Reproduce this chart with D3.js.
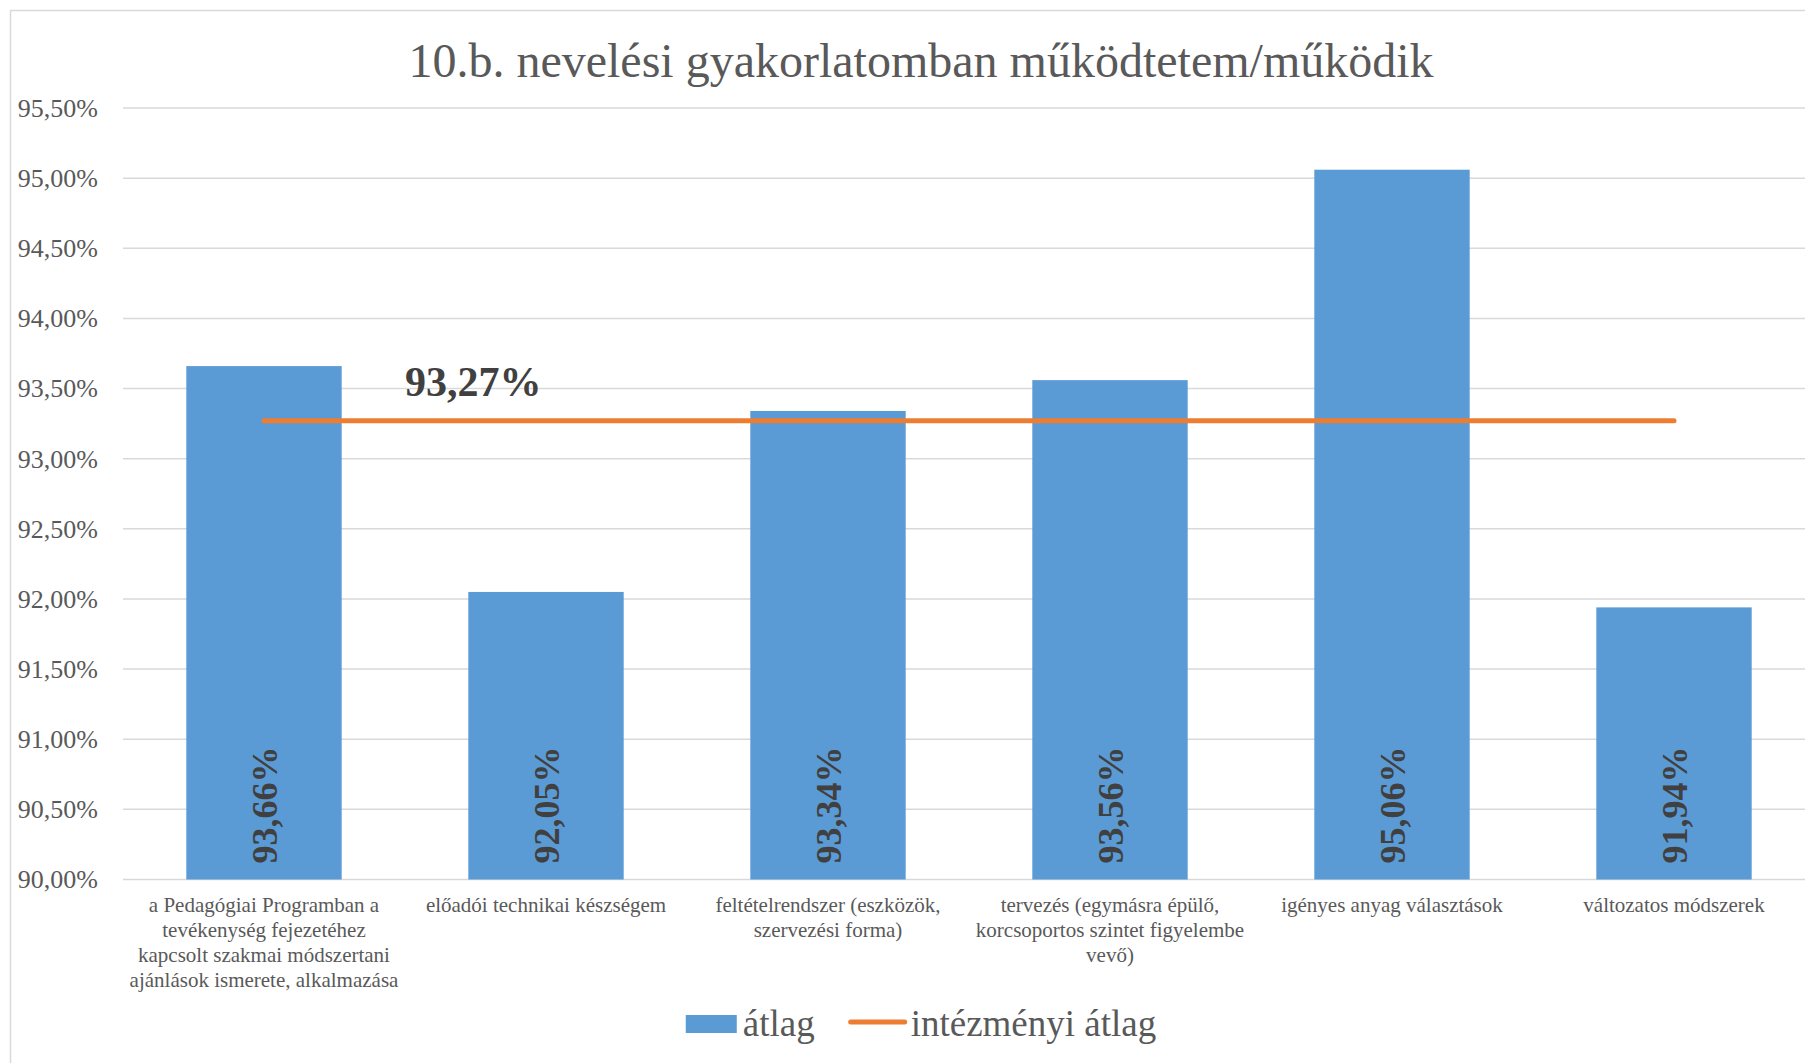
<!DOCTYPE html>
<html>
<head>
<meta charset="utf-8">
<script src="https://cdn.jsdelivr.net/npm/d3@7"></script>
<style>
  body { margin: 0; background: #fff; }
  text { font-family: "Liberation Serif", "Times New Roman", serif; }
</style>
</head>
<body>
<div id="chart"></div>
<script>
// categories, split into the lines shown under each bar
const categories = [
  "a Pedagógiai Programban a tevékenység fejezetéhez kapcsolt szakmai módszertani ajánlások ismerete, alkalmazása",
  "előadói technikai készségem",
  "feltételrendszer (eszközök, szervezési forma)",
  "tervezés (egymásra épülő, korcsoportos szintet figyelembe vevő)",
  "igényes anyag választások",
  "változatos módszerek"
];
const categoryLines = [
  ["a Pedagógiai Programban a", "tevékenység fejezetéhez", "kapcsolt szakmai módszertani", "ajánlások ismerete, alkalmazása"],
  ["előadói technikai készségem"],
  ["feltételrendszer (eszközök,", "szervezési forma)"],
  ["tervezés (egymásra épülő,", "korcsoportos szintet figyelembe", "vevő)"],
  ["igényes anyag választások"],
  ["változatos módszerek"]
];
const atlag = [93.66, 92.05, 93.34, 93.56, 95.06, 91.94];
const intezmenyiAtlag = [93.27, 93.27, 93.27, 93.27, 93.27, 93.27];
const yTicks = [90, 90.5, 91, 91.5, 92, 92.5, 93, 93.5, 94, 94.5, 95, 95.5];
const seriesNames = ["átlag", "intézményi átlag"];
const title = "10.b. nevelési gyakorlatomban működtetem/működik";

const W = 1805, H = 1063;
const frame = {x: 10, y: 10, width: 1822};
const plot = {left: 123, right: 1815, top: 108, bottom: 879.5};

const hu = d3.formatLocale({decimal: ",", thousands: " ", grouping: [3], currency: ["", " Ft"]});
const pct = v => hu.format(".2f")(v) + "%";

const svg = d3.select("#chart")
  .append("svg")
    .attr("width", W)
    .attr("height", H)
    .style("display", "block");

svg.append("rect")
  .attr("width", W).attr("height", H)
  .attr("fill", "#fff");

// chart frame (runs off the right / bottom edge like the original)
svg.append("rect")
  .attr("x", frame.x + 0.5).attr("y", frame.y + 0.5)
  .attr("width", frame.width).attr("height", 1200)
  .attr("fill", "none")
  .attr("stroke", "#d9d9d9")
  .attr("stroke-width", 1.5);

const xScale = d3.scaleBand()
  .domain(categories)
  .range([plot.left, plot.right])
  .paddingInner(0.449)
  .paddingOuter(0.2245);

const yScale = d3.scaleLinear()
  .domain([90, 95.5])
  .range([plot.bottom, plot.top]);

// gridlines
svg.append("g")
  .selectAll("line")
  .data(yTicks)
  .join("line")
    .attr("x1", plot.left)
    .attr("x2", plot.right)
    .attr("y1", d => yScale(d))
    .attr("y2", d => yScale(d))
    .attr("stroke", "#d9d9d9")
    .attr("stroke-width", 1.5);

// y axis labels
const yAxis = svg.append("g")
  .attr("transform", `translate(${plot.left - 25},0)`)
  .call(d3.axisLeft(yScale).tickValues(yTicks).tickSize(0).tickPadding(0).tickFormat(pct));
yAxis.select(".domain").remove();
yAxis.selectAll("text")
  .style("font-family", '"Liberation Serif", serif')
  .style("font-size", "26px")
  .attr("fill", "#595959");

// bars
svg.append("g")
  .selectAll("rect")
  .data(atlag)
  .join("rect")
    .attr("x", (d, i) => xScale(categories[i]))
    .attr("y", d => yScale(d))
    .attr("width", xScale.bandwidth())
    .attr("height", d => yScale(90) - yScale(d))
    .attr("fill", "#5b9bd5");

// bar value labels, rotated, at the base
svg.append("g")
  .selectAll("text")
  .data(atlag)
  .join("text")
    .attr("transform", (d, i) => `translate(${xScale(categories[i]) + xScale.bandwidth() / 2 + 1},${yScale(90) - 16}) rotate(-90)`)
    .attr("dominant-baseline", "central")
    .attr("text-anchor", "start")
    .style("font-size", "36px")
    .style("font-weight", "bold")
    .attr("fill", "#404040")
    .text(d => pct(d));

// x category labels
const xLabels = svg.append("g")
  .selectAll("text")
  .data(categoryLines)
  .join("text")
    .attr("text-anchor", "middle")
    .style("font-size", "21px")
    .attr("fill", "#595959");
xLabels.selectAll("tspan")
  .data((lines, i) => lines.map(l => ({l, i})))
  .join("tspan")
    .attr("x", d => xScale(categories[d.i]) + xScale.bandwidth() / 2)
    .attr("y", (d, j) => plot.bottom + 32 + j * 25)
    .text(d => d.l);

// institutional average line
const line = d3.line()
  .x((d, i) => xScale(categories[i]) + xScale.bandwidth() / 2)
  .y(d => yScale(d));

svg.append("path")
  .datum(intezmenyiAtlag)
  .attr("d", line)
  .attr("fill", "none")
  .attr("stroke", "#ed7d31")
  .attr("stroke-width", 5)
  .attr("stroke-linecap", "round");

svg.append("text")
  .attr("x", xScale(categories[1]) - xScale.step() * xScale.paddingInner() / 2)
  .attr("y", yScale(intezmenyiAtlag[1]) - 25)
  .style("font-size", "42px")
  .style("font-weight", "bold")
  .attr("fill", "#404040")
  .text(pct(intezmenyiAtlag[1]));

// title
svg.append("text")
  .attr("x", frame.x + frame.width / 2)
  .attr("y", 77)
  .attr("text-anchor", "middle")
  .style("font-size", "48px")
  .attr("fill", "#595959")
  .text(title);

// legend
const legend = svg.append("g");
const legY = 1024;
const item1 = legend.append("g");
item1.append("rect")
  .attr("x", 0).attr("y", legY - 9)
  .attr("width", 51).attr("height", 18)
  .attr("fill", "#5b9bd5");
const t1 = item1.append("text")
  .attr("x", 57).attr("y", legY + 12)
  .style("font-size", "37px")
  .attr("fill", "#595959")
  .text(seriesNames[0]);
const w1 = 57 + t1.node().getComputedTextLength();

const item2 = legend.append("g")
  .attr("transform", `translate(${w1 + 36},0)`);
item2.append("line")
  .attr("x1", 0).attr("x2", 54)
  .attr("y1", legY - 2).attr("y2", legY - 2)
  .attr("stroke", "#ed7d31")
  .attr("stroke-width", 5)
  .attr("stroke-linecap", "round");
const t2 = item2.append("text")
  .attr("x", 60).attr("y", legY + 12)
  .style("font-size", "37px")
  .attr("fill", "#595959")
  .text(seriesNames[1]);
const legW = w1 + 36 + 60 + t2.node().getComputedTextLength();
legend.attr("transform", `translate(${frame.x + frame.width / 2 - legW / 2},0)`);
</script>
</body>
</html>
